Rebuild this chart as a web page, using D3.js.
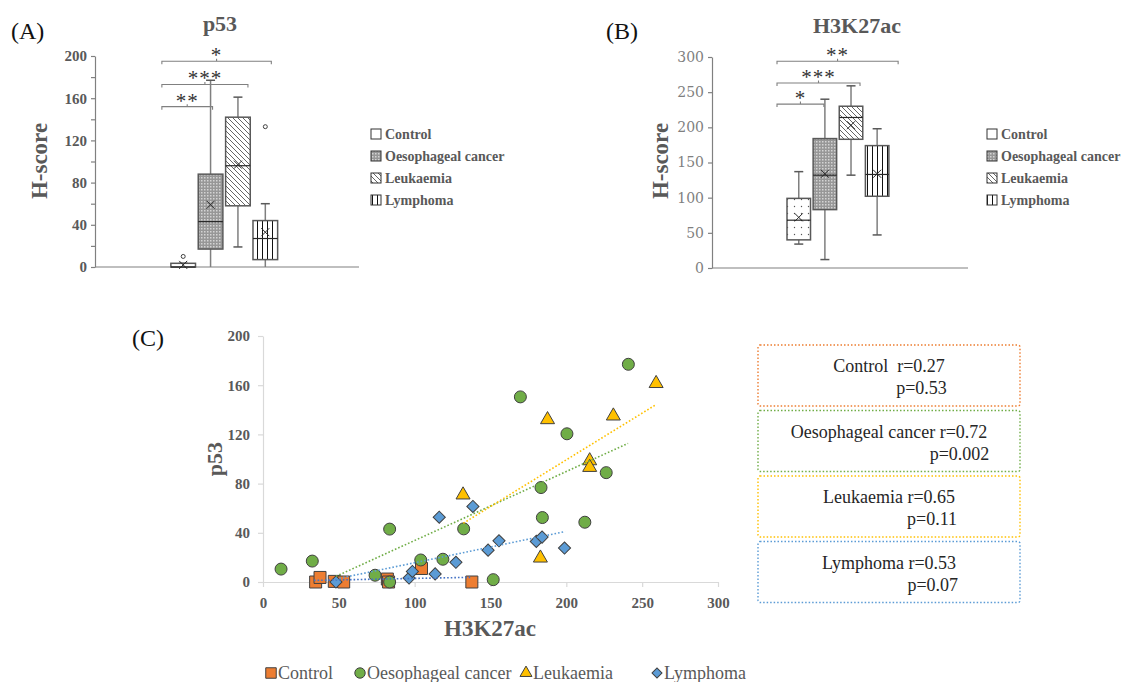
<!DOCTYPE html>
<html><head><meta charset="utf-8">
<script src="https://cdn.jsdelivr.net/npm/d3@7"></script>
<style>body{margin:0;background:#fff}svg text{white-space:pre}</style>
</head><body><svg id="c" width="1141" height="682"></svg>
<script>
const groups = ["Control","Oesophageal cancer","Leukaemia","Lymphoma"];

// Panel A: p53 H-score box stats (Control, Oesophageal, Leukaemia, Lymphoma)
const p53Low    = [0, 0, 19, 0];
const p53Q1     = [0, 17, 58, 7];
const p53Median = [0, 43, 96, 27];
const p53Q3     = [3.5, 88, 142, 44];
const p53High   = [3.5, 177, 161, 60];
const p53Mean   = [2, 59, 97, 33];
const p53Outliers = [[10], [], [], [133]];
const p53Ticks  = [0,20,40,60,80,100,120,140,160,180,200];
const p53TickLabels = [0,40,80,120,160,200];
const p53SigLabels = ["**","***","*"];
const p53SigTo     = [1,2,3];
const p53SigLevel  = [152,173,195];

// Panel B: H3K27ac H-score box stats
const h3Low    = [34, 12, 132, 47];
const h3Q1     = [40, 83, 183, 102];
const h3Median = [68, 132, 214, 133];
const h3Q3     = [99, 184, 230, 174];
const h3High   = [137, 240, 259, 198];
const h3Mean   = [72, 134, 203, 134];
const h3Outliers = [[], [], [], []];
const h3Ticks  = [0,50,100,150,200,250,300];
const h3SigLabels = ["*","***","**"];
const h3SigTo     = [1,2,3];
const h3SigLevel  = [233,263,294];

// Panel C: scatter H3K27ac (x) vs p53 (y)
const ctrlX = [34.7, 37.6, 47, 53.2, 82, 82.8, 104.5, 137.7];
const ctrlY = [0, 3.7, 0.5, 0, 2.4, 0, 11, 0];
const oesoX = [11.9, 32.5, 83.5, 73.9, 83.5, 104, 118.6, 132.3, 151.8, 169.7, 183.3, 184.2, 200.4, 212.2, 226.3, 240.9];
const oesoY = [10.5, 17, 43, 5.5, 0, 17.9, 18.5, 43.2, 1.9, 150.5, 76.8, 52.4, 120.5, 48.6, 88.9, 177];
const leukX = [131.9, 187.6, 182.9, 215.4, 215.4, 231, 259.2];
const leukY = [70.8, 132, 19.5, 98.6, 93.2, 135, 161.4];
const lymX  = [48.1, 96.3, 98.5, 113.5, 116.2, 127.2, 138.4, 148.4, 155.6, 180.2, 184, 198.8];
const lymY  = [0, 3.2, 8.6, 6.6, 52.7, 16, 61.4, 25.9, 33.5, 33, 36.5, 27.6];
// dotted linear trend lines (start/end, clipped at y=0)
const trendX0 = [33.6, 48.1, 132.1, 48.1];
const trendY0 = [1.3, 4.6, 47.8, 2.4];
const trendX1 = [136.6, 240.7, 258.6, 199.2];
const trendY1 = [3.8, 112.7, 143.8, 41];
const cXTicks = [0,50,100,150,200,250,300];
const cYTicks = [0,40,80,120,160,200];
const statR = ["0.27","0.72","0.65","0.53"];
const statP = ["0.53","0.002","0.11","0.07"];

const svg = d3.select("#c");
const defs = svg.append("defs");
function pat(id, w, h, draw){
  const p = defs.append("pattern").attr("id",id).attr("patternUnits","userSpaceOnUse").attr("width",w).attr("height",h);
  p.append("rect").attr("width",w).attr("height",h).attr("fill","#fff");
  draw(p);
}
pat("pDots",7,7,p=>p.append("circle").attr("cx",3.5).attr("cy",3.5).attr("r",0.7).attr("fill","#555"));
pat("pCheck",3,3,p=>{
  p.append("rect").attr("width",3).attr("height",3).attr("fill","#979797");
  p.append("rect").attr("width",1.5).attr("height",1.5).attr("fill","#d4d4d4");
});
pat("pDiag",5,5,p=>p.append("path").attr("d","M-1,-1L6,6M-1,4L1,6M4,-1L6,1").attr("stroke","#555").attr("stroke-width",0.9));
pat("pVert",5,5,p=>p.append("line").attr("x1",2.5).attr("x2",2.5).attr("y1",0).attr("y2",5).attr("stroke","#111").attr("stroke-width",1));
const fills = ["url(#pDots)","url(#pCheck)","url(#pDiag)","url(#pVert)"];
const swatchFills = ["#fff","url(#pCheck)","url(#pDiag)","url(#pVert)"];

const GREY = "#595959";
const serif = "'Liberation Serif','Times New Roman',serif";

function boxPanel(cfg){
  const g = svg.append("g");
  const y = d3.scaleLinear().domain(cfg.domain).range(cfg.yRange);
  const x = d3.scaleBand().domain(groups).range(cfg.xRange).paddingInner(0.1).paddingOuter(0.05);
  const ax = g.append("g").attr("transform",`translate(${cfg.axisX},0)`)
    .call(d3.axisLeft(y).tickValues(cfg.ticks).tickSize(4).tickSizeOuter(0).tickPadding(4)
      .tickFormat(d=>cfg.tickLabels.includes(d)?d:""));
  ax.selectAll("path,line").attr("stroke","#808080").attr("stroke-width",1.2);
  ax.selectAll("text").attr("font-family",cfg.tickFont).attr("font-weight",cfg.tickWeight)
    .attr("font-size",cfg.tickSize).attr("fill",cfg.tickColor);
  g.append("line").attr("x1",cfg.axisX).attr("x2",cfg.axisEnd).attr("y1",y(0)).attr("y2",y(0))
    .attr("stroke","#808080").attr("stroke-width",1.2);
  const cx = i => x(groups[i]) + x.bandwidth()/2;
  const bw = x.bandwidth();
  groups.forEach((grp,i)=>{
    const c = cx(i);
    [[cfg.low[i],cfg.q1[i]],[cfg.q3[i],cfg.high[i]]].forEach(([a,b])=>{
      if (b>a){
        g.append("line").attr("x1",c).attr("x2",c).attr("y1",y(a)).attr("y2",y(b)).attr("stroke","#7f7f7f").attr("stroke-width",1.5);
      }
    });
    [cfg.low[i],cfg.high[i]].forEach(v=>{
      if (v>0) g.append("line").attr("x1",c-4.5).attr("x2",c+4.5).attr("y1",y(v)).attr("y2",y(v)).attr("stroke","#595959").attr("stroke-width",1.5);
    });
    g.append("rect").attr("x",x(grp)).attr("width",bw).attr("y",y(cfg.q3[i])).attr("height",Math.max(1,y(cfg.q1[i])-y(cfg.q3[i])))
      .attr("fill",fills[i]).attr("stroke","#595959").attr("stroke-width",1.5);
    g.append("line").attr("x1",x(grp)).attr("x2",x(grp)+bw).attr("y1",y(cfg.median[i])).attr("y2",y(cfg.median[i])).attr("stroke","#262626").attr("stroke-width",1.2);
    const my = y(cfg.mean[i]), s=4;
    g.append("path").attr("d",`M${c-s},${my-s}L${c+s},${my+s}M${c-s},${my+s}L${c+s},${my-s}`).attr("stroke","#262626").attr("stroke-width",1);
    cfg.outliers[i].forEach(o=>g.append("circle").attr("cx",c).attr("cy",y(o)).attr("r",2).attr("fill","#fff").attr("stroke","#404040").attr("stroke-width",1));
  });
  cfg.sigLabels.forEach((lab,k)=>{
    const x0 = x(groups[0]) - cfg.bracketLeftPad;
    const x1 = cx(cfg.sigTo[k]) + cfg.bracketRightPad[k];
    const yy = y(cfg.sigLevel[k]);
    const xm = (x0+x1)/2;
    g.append("path").attr("d",`M${x0},${yy+3}L${x0},${yy}L${x1},${yy}L${x1},${yy+3}M${xm},${yy}L${xm},${yy-2.5}`)
      .attr("fill","none").attr("stroke","#808080").attr("stroke-width",1.1);
    g.append("text").attr("x",xm).attr("y",yy+1).attr("text-anchor","middle").attr("font-family",serif)
      .attr("font-size",21).attr("letter-spacing",1).attr("fill","#333").text(lab);
  });
  g.append("text").attr("x",cfg.titleX).attr("y",cfg.titleY).attr("text-anchor","middle").attr("font-family",serif)
    .attr("font-weight","bold").attr("font-size",22).attr("fill",GREY).text(cfg.title);
  g.append("text").attr("transform",`translate(${cfg.ylabX},${cfg.ylabY}) rotate(-90)`).attr("text-anchor","middle").attr("font-family",serif)
    .attr("font-weight","bold").attr("font-size",23).attr("fill",GREY).text("H-score");
  g.append("text").attr("x",cfg.letterX).attr("y",cfg.letterY).attr("font-family",serif).attr("font-size",24).attr("fill","#111").text(cfg.letter);
  groups.forEach((grp,i)=>{
    const ly = cfg.legY + i*cfg.legStep;
    g.append("rect").attr("x",cfg.legX).attr("y",ly-5).attr("width",10).attr("height",10).attr("fill",swatchFills[i]).attr("stroke","#333").attr("stroke-width",1);
    g.append("text").attr("x",cfg.legX+14).attr("y",ly+5).attr("font-family",serif).attr("font-weight","bold")
      .attr("font-size",14).attr("fill",GREY).text(grp);
  });
}

boxPanel({domain:[0,200], yRange:[267,56], xRange:[169.5,279], axisX:95, axisEnd:359,
  ticks:p53Ticks, tickLabels:p53TickLabels, tickFont:serif, tickWeight:"bold", tickSize:15, tickColor:GREY,
  low:p53Low,q1:p53Q1,median:p53Median,q3:p53Q3,high:p53High,mean:p53Mean,outliers:p53Outliers,
  sigLabels:p53SigLabels, sigTo:p53SigTo, sigLevel:p53SigLevel, bracketLeftPad:9, bracketRightPad:[2,10,6],
  title:"p53", titleX:220, titleY:31, ylabX:47, ylabY:161, letter:"(A)", letterX:11, letterY:39,
  legX:371, legY:134, legStep:22});

boxPanel({domain:[0,300], yRange:[268,57], xRange:[785.7,890.2], axisX:712, axisEnd:968,
  ticks:h3Ticks, tickLabels:h3Ticks, tickFont:"'DejaVu Serif',serif", tickWeight:"normal", tickSize:14, tickColor:"#7f7f7f",
  low:h3Low,q1:h3Q1,median:h3Median,q3:h3Q3,high:h3High,mean:h3Mean,outliers:h3Outliers,
  sigLabels:h3SigLabels, sigTo:h3SigTo, sigLevel:h3SigLevel, bracketLeftPad:10, bracketRightPad:[-1,9,21],
  title:"H3K27ac", titleX:857, titleY:33, ylabX:668, ylabY:161, letter:"(B)", letterX:606, letterY:39,
  legX:987, legY:134, legStep:22});

// ---- Panel C ----
const gc = svg.append("g");
const xC = d3.scaleLinear().domain([0,300]).range([263,718]);
const yC = d3.scaleLinear().domain([0,200]).range([582,336]);
const axY = gc.append("g").attr("transform","translate(263,0)").call(d3.axisLeft(yC).tickValues(cYTicks).tickSize(5).tickSizeOuter(0).tickPadding(8));
const axX = gc.append("g").attr("transform","translate(0,582)").call(d3.axisBottom(xC).tickValues(cXTicks).tickSize(5).tickSizeOuter(0).tickPadding(10));
[axY,axX].forEach(a=>{
  a.selectAll("path,line").attr("stroke","#d9d9d9").attr("stroke-width",1.2);
  a.selectAll("text").attr("font-family",serif).attr("font-weight","bold").attr("font-size",15).attr("fill",GREY);
});
const colors = ["#ED7D31","#70AD47","#FFC000","#5B9BD5"];
const trendColors = ["#4472C4","#70AD47","#FFC000","#5B9BD5"];
const sq = d3.symbol().type(d3.symbolSquare).size(144)();
const ci = d3.symbol().type(d3.symbolCircle).size(113)();
const tr = d3.symbol().type(d3.symbolTriangle).size(85)();
const di = d3.symbol().type(d3.symbolSquare).size(74)();
const shapes = [sq,ci,tr,di];
const rots = [0,0,0,45];
const seriesX = [ctrlX,oesoX,leukX,lymX];
const seriesY = [ctrlY,oesoY,leukY,lymY];
seriesX.forEach((xs,s)=>{
  gc.append("g").selectAll("path").data(xs.map((v,i)=>[v,seriesY[s][i]])).join("path")
    .attr("d",shapes[s]).attr("transform",d=>`translate(${xC(d[0])},${yC(d[1])}) rotate(${rots[s]})`)
    .attr("fill",colors[s]).attr("stroke","#404040").attr("stroke-width",1);
});
trendX0.forEach((v,s)=>{
  gc.append("line").attr("x1",xC(v)).attr("y1",yC(trendY0[s])).attr("x2",xC(trendX1[s])).attr("y2",yC(trendY1[s]))
    .attr("stroke",trendColors[s]).attr("stroke-width",1.6).attr("stroke-dasharray","1.6,2");
});
gc.append("text").attr("transform","translate(222,459) rotate(-90)").attr("text-anchor","middle").attr("font-family",serif)
  .attr("font-weight","bold").attr("font-size",22).attr("fill",GREY).text("p53");
gc.append("text").attr("x",490).attr("y",636).attr("text-anchor","middle").attr("font-family",serif)
  .attr("font-weight","bold").attr("font-size",23).attr("fill",GREY).text("H3K27ac");
gc.append("text").attr("x",132).attr("y",346).attr("font-family",serif).attr("font-size",24).attr("fill","#111").text("(C)");

groups.forEach((grp,i)=>{
  const top = 345 + i*65.5;
  gc.append("rect").attr("x",758).attr("y",top).attr("width",262).attr("height",61).attr("rx",2)
    .attr("fill","none").attr("stroke",colors[i]).attr("stroke-width",1.4).attr("stroke-dasharray","1.5,2");
  const t1 = gc.append("text").attr("x",889).attr("y",top+27).attr("text-anchor","middle").attr("font-family",serif)
    .attr("font-size",18).attr("fill","#262626").text(grp + (i===0?"  ":" ") + "r=" + statR[i]);
  const w = t1.node().getComputedTextLength();
  gc.append("text").attr("x",889 + w/2 + 2).attr("y",top+49).attr("text-anchor","end").attr("font-family",serif)
    .attr("font-size",18).attr("fill","#262626").text("p=" + statP[i]);
});

// bottom legend
const legendMarkerX = [271, 360, 526, 657];
const legShapes = [d3.symbol().type(d3.symbolSquare).size(110)(), d3.symbol().type(d3.symbolCircle).size(85)(),
                   d3.symbol().type(d3.symbolTriangle).size(62)(), d3.symbol().type(d3.symbolSquare).size(50)()];
groups.forEach((grp,i)=>{
  const ly = 673, lx = legendMarkerX[i];
  gc.append("path").attr("d",legShapes[i]).attr("transform",`translate(${lx},${ly}) rotate(${rots[i]})`)
    .attr("fill",colors[i]).attr("stroke","#404040").attr("stroke-width",1);
  gc.append("text").attr("x",lx+7).attr("y",ly+6).attr("font-family",serif).attr("font-size",18).attr("fill",GREY).text(grp);
});
</script></body></html>
